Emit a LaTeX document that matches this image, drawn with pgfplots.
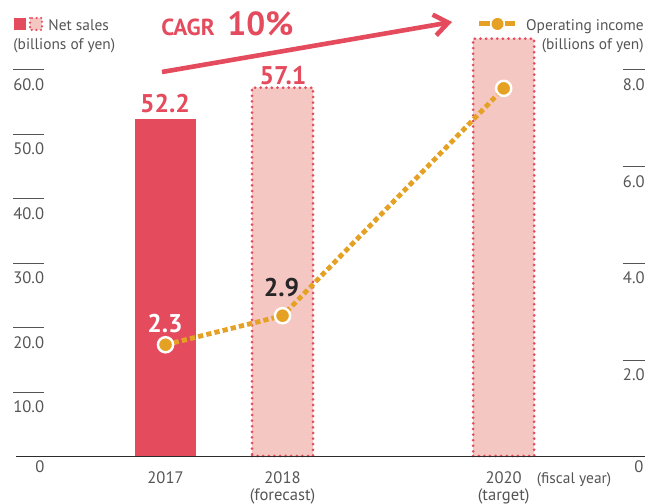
\documentclass[border=0pt]{standalone}
\usepackage{fontspec}
\setmainfont{PT Sans}
\usepackage{pgfplots}
\pgfplotsset{compat=1.18}
\usetikzlibrary{arrows.meta}

\definecolor{salesred}{RGB}{228,76,94}
\definecolor{salespink}{RGB}{245,199,194}
\definecolor{opinc}{RGB}{229,161,36}
\definecolor{txtgray}{RGB}{85,85,85}
\definecolor{axgray}{RGB}{45,45,45}

\newcommand{\gf}{\fontsize{8.3}{8.5}\selectfont}
\newcommand{\lf}{\fontsize{7.7}{8}\selectfont}
\setlength{\arrayrulewidth}{0.5pt}
% tick label with a short rule above it
\newcommand{\ovl}[1]{\begin{tabular}[t]{@{}c@{}}\hline\rule{0pt}{10pt}#1\end{tabular}}

\pgfplotsset{chartbase/.style={
  at={(0,0)}, anchor=south west,
  scale only axis, width=314.5pt, height=226pt,
  xmin=-1.278, xmax=4.098, ymin=0,
  axis line style={draw=none}, major tick length=0pt,
  tick label style={font=\gf, text=txtgray},
  clip=false,
}}

\begin{document}
\begin{tikzpicture}
% pixel frame of the reference (1px = 0.5pt)
\begin{scope}[shift={(-8pt,228pt)}, x=0.5pt, y=-0.5pt]
  \useasboundingbox (0,0) rectangle (662,503);
\end{scope}

% net sales (left axis)
\begin{axis}[chartbase,
  ymax=70.08,
  ytick={10,20,30,40,50,60},
  yticklabels={\ovl{10.0},\ovl{20.0},\ovl{30.0},\ovl{40.0},\ovl{50.0},\ovl{60.0}},
  yticklabel style={anchor=north west, inner sep=0pt, xshift=-1.5pt},
  xtick={0,1,2.89},
  xticklabels={2017,{2018\\(forecast)},{2020\\(target)}},
  xticklabel style={align=center, anchor=north, inner sep=0pt, yshift=-7.5pt},
]
\addplot[ybar, bar width=30.5pt, bar shift=0pt, fill=salesred, draw=none]
  coordinates {(0,52.2)};
\addplot[ybar, bar width=30.5pt, bar shift=0pt, fill=salespink, draw=salesred,
  line width=1.5pt, dash pattern=on 0pt off 2.8pt, line cap=round]
  coordinates {(1,57.1) (2.89,64.7)};
\end{axis}

% operating income (right axis)
\begin{axis}[chartbase,
  ymax=9.344,
  xtick=\empty,
  ytick={2,4,6,8},
  yticklabels={\ovl{2.0},\ovl{4.0},\ovl{6.0},\ovl{8.0}},
  yticklabel pos=right,
  yticklabel style={anchor=north east, inner sep=0pt},
]
\addplot[opinc, line width=2.4pt, dash pattern=on 2.6pt off 1.6pt,
  mark=*, mark size=3.8pt,
  mark options={solid, fill=opinc, draw=white, line width=1.2pt}]
  coordinates {(0,2.3) (1,2.9) (2.89,7.6)};
\end{axis}

\begin{scope}[shift={(-8pt,228pt)}, x=0.5pt, y=-0.5pt]
  % baseline
  \draw[axgray, line width=0.7pt] (16,456.5) -- (645,456.5);
  \node[font=\gf, text=txtgray, anchor=base] at (40,473) {0};
  \node[font=\gf, text=txtgray, anchor=base] at (639,473) {0};
  \node[font=\lf, text=txtgray, anchor=base] at (574,484) {(fiscal year)};

  % legend, net sales
  \fill[salesred] (14,18) rectangle (26,30);
  \fill[salespink] (30,18) rectangle (42,30);
  \draw[salesred, line width=1.2pt, dash pattern=on 0pt off 2.3pt, line cap=round]
    (30,18) rectangle (42,30);
  \node[font=\lf, text=txtgray, anchor=base west, inner sep=0pt] at (48,30.5) {Net sales};
  \node[font=\lf, text=txtgray, anchor=base west, inner sep=0pt] at (13,50) {(billions of yen)};

  % legend, operating income
  \draw[opinc, line width=2.5pt] (479,24) -- (490,24);
  \draw[opinc, line width=2.5pt] (505,24) -- (515,24);
  \fill[opinc] (497.5,24) circle[radius=3pt];
  \node[font=\lf, text=txtgray, anchor=base east, inner sep=0pt] at (644,30.5) {Operating income};
  \node[font=\lf, text=txtgray, anchor=base east, inner sep=0pt] at (644,50) {(billions of yen)};

  % CAGR arrow
  \draw[salesred, line width=2.3pt, -{Straight Barb[length=7pt, width=10.5pt]}]
    (162,72) -- (452,22);
  \node[font=\fontsize{11.6}{12}\selectfont\bfseries, text=salesred, anchor=base west, inner sep=0pt]
    at (161,36) {CAGR};
  \node[font=\fontsize{16.7}{17}\selectfont\bfseries, text=salesred, anchor=base west, inner sep=0pt]
    at (227,36) {10\%};

  % value labels
  \node[font=\fontsize{12.8}{13}\selectfont\bfseries, text=salesred, anchor=base] at (165,113) {52.2};
  \node[font=\fontsize{12.8}{13}\selectfont\bfseries, text=salesred, anchor=base] at (283,85) {57.1};
  \node[font=\fontsize{12.8}{13}\selectfont\bfseries, text=white, anchor=base] at (165,333) {2.3};
  \node[font=\fontsize{12.8}{13}\selectfont\bfseries, text=black!85, anchor=base] at (281.5,297) {2.9};
\end{scope}
\end{tikzpicture}
\end{document}
